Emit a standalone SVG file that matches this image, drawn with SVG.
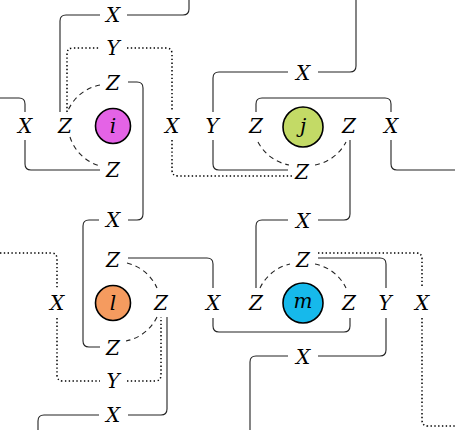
<svg xmlns="http://www.w3.org/2000/svg" width="455" height="430" viewBox="0 0 455 430">
<style>
.w{fill:none;stroke:#222;stroke-width:1.1}
.dot{stroke-dasharray:1.4 2.4;stroke-width:1.5;stroke:#000}
.dash{stroke-dasharray:5 4}
.lbl{font-family:"DejaVu Serif","Liberation Serif",serif;font-style:italic;font-size:20px;text-anchor:middle;fill:#000}
.nd{stroke:#000;stroke-width:1.6}
</style>
<rect width="455" height="430" fill="#fff"/>
<g id="connectors">
<g class="w">
<path d="M0 98 H19 Q25 98 25 104 V112"/>
<path d="M25 140 V164 Q25 170 31 170 H100"/>
<path d="M60 112 V21 Q60 15 66 15 H100"/>
<path d="M127 15 H183 Q189 15 189 9 V0"/>
<path d="M128 82 H137 Q143 82 143 88 V214 Q143 220 137 220 H128"/>
<path d="M99 220 H89 Q83 220 83 226 V341 Q83 347 89 347 H100"/>
<path d="M128 258 H207 Q213 258 213 264 V288"/>
<path d="M213 318 V326 Q213 332 219 332 H344 Q350 332 350 326 V318"/>
<path d="M167 317 V409 Q167 415 161 415 H128"/>
<path d="M99 415 H44 Q38 415 38 421 V430"/>
<path d="M213 112 V78 Q213 72 219 72 H288"/>
<path d="M318 72 H350 Q356 72 356 66 V0"/>
<path d="M213 140 V164 Q213 170 219 170 H288"/>
<path d="M256 112 V104 Q256 98 262 98 H385 Q391 98 391 104 V112"/>
<path d="M391 140 V164 Q391 170 397 170 H455"/>
<path d="M350 140 V214 Q350 220 344 220 H318"/>
<path d="M288 220 H262 Q256 220 256 226 V288"/>
<path d="M318 258 H380 Q386 258 386 264 V288"/>
<path d="M386 318 V350 Q386 356 380 356 H318"/>
<path d="M288 356 H256 Q250 356 250 362 V430"/>
</g>
<g class="w dot">
<path d="M67 112 V54 Q67 48 73 48 H100"/>
<path d="M127 48 H166 Q172 48 172 54 V112"/>
<path d="M172 140 V170 Q172 176 178 176 H292"/>
<path d="M318 253 H416 Q422 253 422 259 V288"/>
<path d="M422 318 V420 Q422 426 428 426 H455"/>
<path d="M0 253 H51 Q57 253 57 259 V288"/>
<path d="M57 318 V375 Q57 381 63 381 H100"/>
<path d="M127 381 H155 Q161 381 161 375 V317"/>
</g>
<g class="w dash">
<path d="M100 85 A44 44 0 0 0 67 113"/>
<path d="M70 137 A44 44 0 0 0 100 166"/>
<path d="M258 142 A44 44 0 0 0 289 165"/>
<path d="M315 165 A44 44 0 0 0 346 142"/>
<path d="M127 263 A44 44 0 0 1 157 288"/>
<path d="M157 317 A44 44 0 0 1 126 341"/>
<path d="M260 288 A44 44 0 0 1 290 264"/>
<path d="M315 264 A44 44 0 0 1 346 288"/>
</g>
</g>
<g id="node-i"><circle class="nd" cx="113" cy="126" r="17.5" fill="#E463E6"/><text class="lbl" x="113" y="133">i</text></g>
<g id="node-j"><circle class="nd" cx="303" cy="127" r="20" fill="#C3DA66"/><text class="lbl" x="303" y="133">j</text></g>
<g id="node-l"><circle class="nd" cx="113" cy="303" r="17.5" fill="#F59B5F"/><text class="lbl" x="113" y="310">l</text></g>
<g id="node-m"><circle class="nd" cx="303" cy="303" r="20" fill="#16B9EB"/><text class="lbl" x="303" y="308">m</text></g>
<g id="labels" class="lbl">
<text x="113" y="22">X</text>
<text x="113" y="55">Y</text>
<text x="113" y="90">Z</text>
<text x="25" y="133">X</text>
<text x="65" y="133">Z</text>
<text x="172" y="133">X</text>
<text x="212" y="133">Y</text>
<text x="256" y="133">Z</text>
<text x="349" y="133">Z</text>
<text x="391" y="133">X</text>
<text x="303" y="80">X</text>
<text x="113" y="177">Z</text>
<text x="302" y="179">Z</text>
<text x="113" y="227">X</text>
<text x="303" y="228">X</text>
<text x="113" y="267">Z</text>
<text x="303" y="267">Z</text>
<text x="57" y="310">X</text>
<text x="161" y="310">Z</text>
<text x="213" y="310">X</text>
<text x="256" y="310">Z</text>
<text x="349" y="310">Z</text>
<text x="385" y="310">Y</text>
<text x="422" y="310">X</text>
<text x="113" y="355">Z</text>
<text x="113" y="388">Y</text>
<text x="113" y="422">X</text>
<text x="303" y="364">X</text>
</g>
</svg>
